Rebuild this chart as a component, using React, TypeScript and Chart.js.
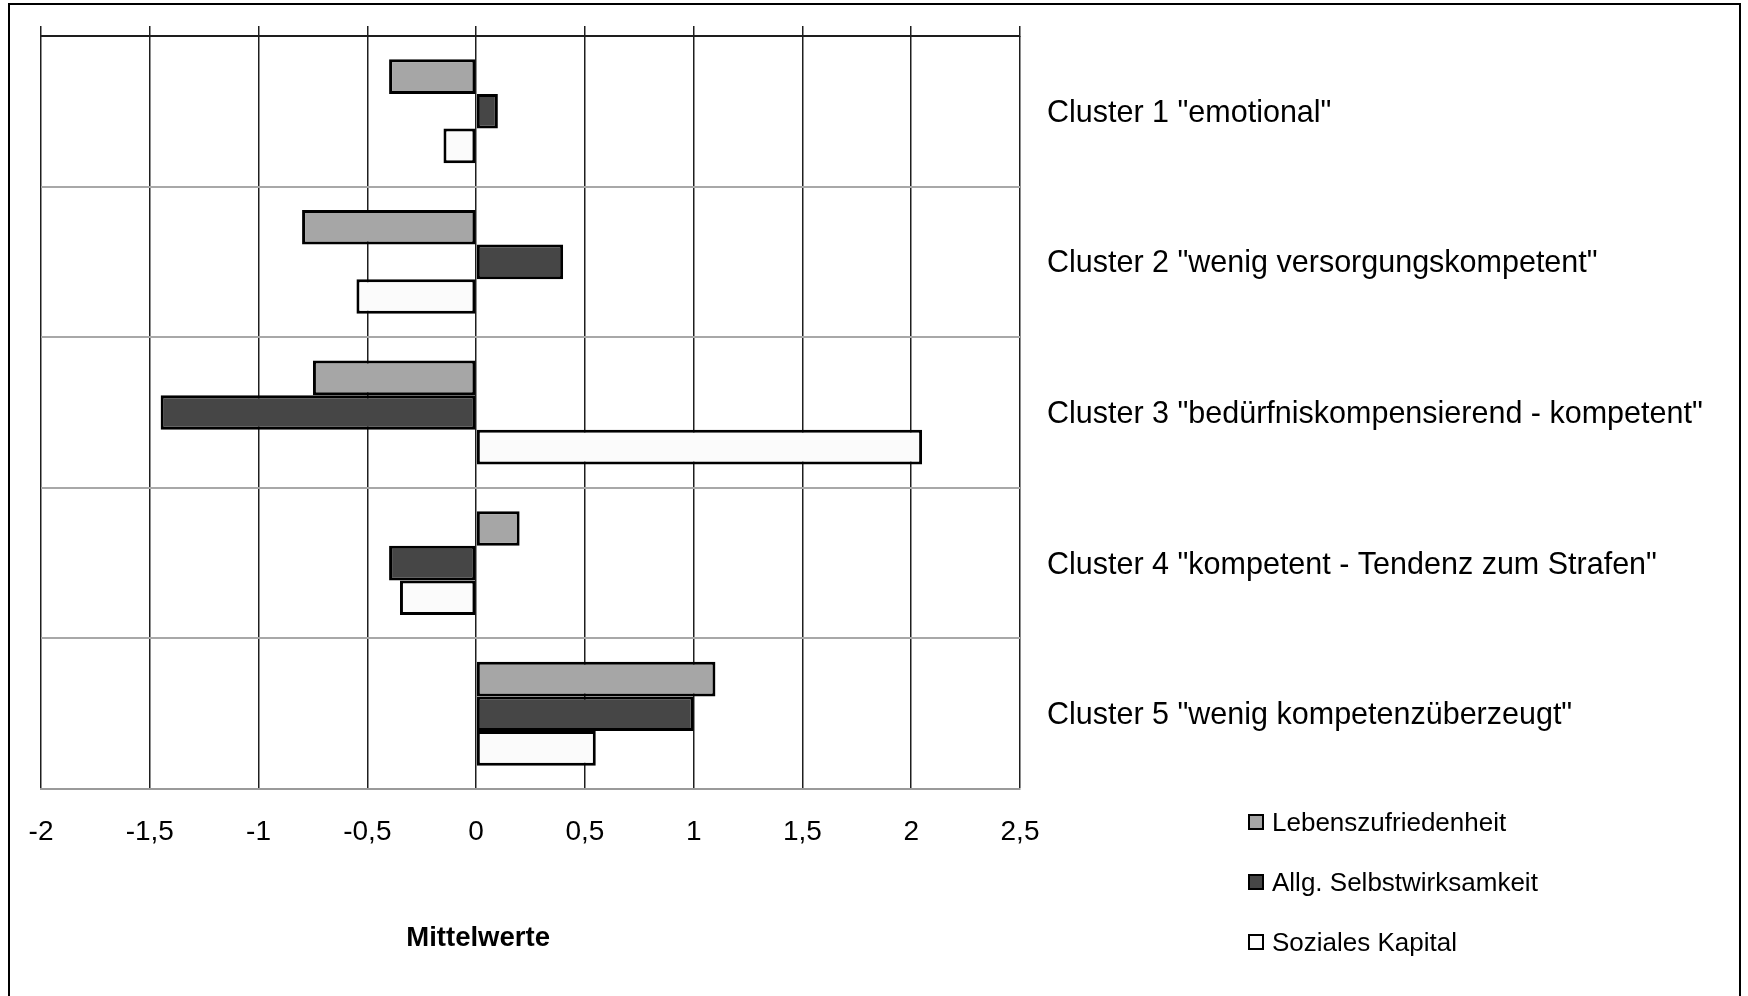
import React, { useEffect, useRef } from 'react';
import { Chart, registerables } from 'chart.js';

Chart.register(...registerables);

const categories = [
  'Cluster 1 "emotional"',
  'Cluster 2 "wenig versorgungskompetent"',
  'Cluster 3 "bedürfniskompensierend - kompetent"',
  'Cluster 4 "kompetent - Tendenz zum Strafen"',
  'Cluster 5 "wenig kompetenzüberzeugt"',
];
const seriesNames = ['Lebenszufriedenheit', 'Allg. Selbstwirksamkeit', 'Soziales Kapital'];
const lebenszufriedenheit = [-0.4, -0.8, -0.75, 0.2, 1.1];
const selbstwirksamkeit = [0.1, 0.4, -1.45, -0.4, 1.0];
const sozialesKapital = [-0.15, -0.55, 2.05, -0.35, 0.55];
const seriesColors = ['#a6a6a6', '#464646', '#fbfbfb'];
const xMin = -2;
const xMax = 2.5;
const xStep = 0.5;
const axisTitle = 'Mittelwerte';

const FONT = '"Liberation Sans", Arial, sans-serif';
const fmt = (v: number | string) => String(v).replace('.', ',');

const titlePlugin = {
  id: 'axisTitleAtZero',
  afterDraw(chart: any) {
    const ctx = chart.ctx;
    const xs = chart.scales.x;
    ctx.save();
    ctx.font = `bold 27.5px ${FONT}`;
    ctx.fillStyle = '#000';
    ctx.textAlign = 'center';
    ctx.textBaseline = 'middle';
    ctx.fillText(axisTitle, xs.getPixelForValue(0) + 2, chart.chartArea.bottom + 149);
    ctx.restore();
  },
};

export default function App() {
  const ref = useRef<HTMLCanvasElement>(null);
  useEffect(() => {
    const values = [lebenszufriedenheit, selbstwirksamkeit, sozialesKapital];
    const chart = new Chart(ref.current!, {
      type: 'bar',
      data: {
        labels: categories,
        datasets: seriesNames.map((name, i) => ({
          label: name,
          data: values[i],
          backgroundColor: seriesColors[i],
          borderColor: '#000',
          borderWidth: 3,
          borderSkipped: false,
          categoryPercentage: 0.69,
          barPercentage: 1,
        })),
      },
      options: {
        indexAxis: 'y',
        responsive: false,
        animation: false,
        layout: { padding: { left: 41, top: 26, right: 0, bottom: 0 } },
        plugins: { legend: { display: false }, tooltip: { enabled: false } },
        scales: {
          x: {
            type: 'linear',
            position: 'bottom',
            min: xMin,
            max: xMax,
            ticks: {
              stepSize: xStep,
              callback: (v: any) => fmt(v),
              font: { family: FONT, size: 28 },
              color: '#000',
              padding: 26,
            },
            grid: { color: '#1e1e1e', lineWidth: 1.5, drawTicks: false },
            border: { display: true, color: '#9a9a9a', width: 2 },
            afterFit: (s: any) => {
              s.height = 207;
            },
          },
          x2: {
            type: 'linear',
            axis: 'x',
            position: 'top',
            min: xMin,
            max: xMax,
            ticks: { stepSize: xStep, display: false },
            grid: { drawOnChartArea: false, drawTicks: true, tickLength: 10, color: '#1e1e1e', lineWidth: 1.5 },
            border: { display: true, color: '#1e1e1e', width: 2 },
            afterFit: (s: any) => {
              s.height = 10;
            },
          },
          y: {
            type: 'category',
            position: 'right',
            offset: true,
            ticks: {
              font: { family: FONT, size: 30.5 },
              color: '#000',
              padding: 27,
              crossAlign: 'near',
              labelOffset: 2,
            },
            grid: {
              offset: true,
              drawTicks: false,
              color: (c: any) => (c.index === 0 ? '#1e1e1e' : '#a8a8a8'),
              lineWidth: 2,
            },
            border: { display: false },
            afterFit: (s: any) => {
              s.width = 728;
              s.paddingTop = 0;
              s.paddingBottom = 0;
            },
          },
        },
      } as any,
      plugins: [titlePlugin],
    });
    return () => chart.destroy();
  }, []);

  return (
    <div style={{ position: 'absolute', left: 0, top: 0, width: 1748, height: 996, overflow: 'hidden', background: '#fff' }}>
      <div
        style={{
          position: 'absolute',
          left: 8,
          top: 3,
          width: 1733,
          height: 1100,
          border: '2px solid #000',
          boxSizing: 'border-box',
        }}
      />
      <canvas ref={ref} width={1748} height={996} style={{ position: 'absolute', left: 0, top: 0, width: 1748, height: 996 }} />
      {seriesNames.map((name, i) => (
        <div
          key={name}
          style={{
            position: 'absolute',
            left: 1248,
            top: 805 + i * 60,
            height: 34,
            display: 'flex',
            alignItems: 'center',
            fontFamily: FONT,
            fontSize: 26,
            color: '#000',
            whiteSpace: 'nowrap',
          }}
        >
          <span
            style={{
              display: 'inline-block',
              width: 16,
              height: 16,
              boxSizing: 'border-box',
              border: '2.5px solid #000',
              background: seriesColors[i],
              marginRight: 8,
            }}
          />
          {name}
        </div>
      ))}
    </div>
  );
}
